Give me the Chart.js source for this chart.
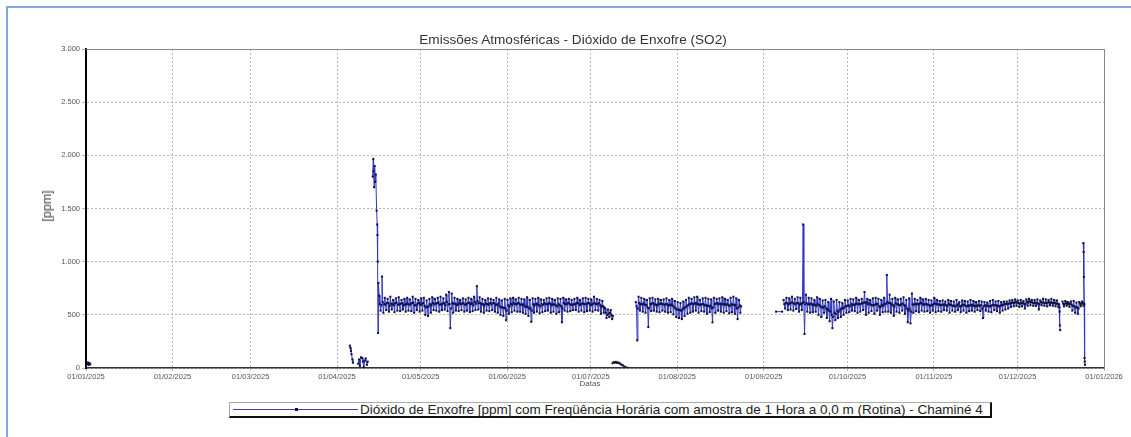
<!DOCTYPE html>
<html>
<head>
<meta charset="utf-8">
<script src="https://cdn.jsdelivr.net/npm/chart.js@4.4.1/dist/chart.umd.min.js"></script>
<style>
  html,body{margin:0;padding:0;background:#fff;}
  body{width:1131px;height:437px;position:relative;overflow:hidden;font-family:"Liberation Sans",Arial,sans-serif;}
  #frame{position:absolute;left:6px;top:6px;width:1140px;height:470px;border:2px solid #7fa8e2;box-sizing:border-box;}
  #wrap{position:absolute;left:0;top:0;width:1131px;height:437px;}
  #title{position:absolute;left:0;width:1146px;top:32px;text-align:center;font-size:13.6px;color:#333;line-height:15px;}
  #ylab{position:absolute;left:47px;top:206px;transform:translate(-50%,-50%) rotate(-90deg);font-size:12.5px;color:#444;white-space:nowrap;font-weight:normal;}
  #xlab{position:absolute;left:0;width:1180px;top:379px;text-align:center;font-size:8px;color:#555;}
  #legend{position:absolute;left:229px;top:402px;width:763px;height:16px;background:#fff;border-top:1px solid #aaa;border-left:1px solid #aaa;border-right:2px solid #111;border-bottom:2px solid #111;box-sizing:border-box;}
  #legline{position:absolute;left:3px;top:6px;width:125px;height:0;border-top:1px solid #3a3fb0;}
  #legdot{position:absolute;left:65px;top:5px;width:3px;height:3px;background:#111133;}
  #legtext{position:absolute;left:130px;top:0px;font-size:13.5px;line-height:14px;color:#222;white-space:nowrap;}
</style>
</head>
<body>
<div id="frame"></div>
<div id="wrap"><canvas id="c" width="1131" height="437"></canvas></div>
<div id="title">Emissões Atmosféricas - Dióxido de Enxofre (SO2)</div>
<div id="ylab">[ppm]</div>
<div id="xlab">Datas</div>
<div id="legend"><div id="legline"></div><div id="legdot"></div><div id="legtext">Dióxido de Enxofre [ppm] com Freqüência Horária com amostra de 1 Hora a 0,0 m (Rotina) - Chaminé 4</div></div>
<script>
// ---- tick labels ----
const monthTicks = [0,31,59,90,120,151,181,212,243,273,304,334,365];
const xTickLabels = ['01/01/2025','01/02/2025','01/03/2025','01/04/2025','01/05/2025','01/06/2025','01/07/2025','01/08/2025','01/09/2025','01/10/2025','01/11/2025','01/12/2025','01/01/2026'];
const yTickLabels = ['0','500','1.000','1.500','2.000','2.500','3.000'];

// ---- data (x = day of year 2025, y = ppm) ----
const janPts = [[0.1,30],[0.3,45],[0.5,35],[0.7,52],[0.9,40],[1.1,30],[1.3,45],[1.5,35]];
const aprPtsA = [[94.6,210],[94.8,190],[95.0,160],[95.2,130],[95.5,80],[95.7,50]];
const aprPtsB = [[97.6,40],[97.9,80],[98.2,20],[98.6,100],[99.0,95],[99.3,60],[99.6,10],[100.0,70],[100.3,90],[100.7,30],[101.0,60]];
const aprSpike = [[102.8,1800],[103.0,1966],[103.1,1850],[103.3,1700],[103.5,1900],[103.7,1750],[103.9,1820],[104.2,1480],[104.4,1350],[104.5,1250],[104.6,1000],[104.7,330],[104.85,800]];

// daily readings: highest, two typical, lowest
const bandAStart = 105;
const bandAHi = [680,860,660,650,670,640,655,665,640,650, 660,645,670,650,640,655,660,635,650,665,
                 650,660,670,655,690,715,700,660,650,640, 655,645,660,650,670,770,665,650,640,655,
                 650,640,660,645,635,650,640,655,660,645, 660,650,645,665,640,655,650,660,645,640,
                 655,660,650,640,655,650,660,645,650,640, 650,660,640,655,660,650,645,670,650,640,
                 630,560,550,545];
const bandAM1 = [600,620,595,610,605,590,615,600,610,595, 605,600,615,590,610,600,585,575,600,610,
                 605,615,600,610,620,600,610,605,595,600, 610,600,615,605,620,630,610,600,605,595,
                 600,610,595,580,570,560,590,600,610,600, 605,595,580,575,560,600,605,590,600,610,
                 600,605,595,590,600,580,610,600,605,595, 600,610,595,605,600,610,595,615,600,590,
                 580,520,510,500];
const bandALo = [540,520,545,530,550,525,540,535,550,530, 540,535,520,545,530,540,500,490,520,545,
                 540,530,545,550,535,375,520,540,535,545, 530,540,525,535,545,550,530,520,540,535,
                 545,530,520,500,490,450,510,525,540,530, 530,520,510,490,435,520,530,515,525,535,
                 540,520,530,510,525,430,540,530,535,545, 545,530,540,525,535,540,530,545,540,510,
                 520,470,480,460];
const bandAM2 = [590,600,610,585,600,610,595,605,590,600, 595,610,590,605,595,610,570,580,590,600,
                 610,595,605,590,600,560,605,595,610,605, 595,610,600,590,605,610,600,590,600,610,
                 610,595,605,570,565,540,580,595,600,610, 595,600,575,560,540,590,600,580,595,600,
                 610,595,600,580,590,560,600,610,595,600, 610,595,605,600,610,595,605,600,610,580,
                 570,500,520,490];

const julZero = [[188.8,45],[189.2,55],[189.6,50],[190.0,58],[190.4,48],[190.8,52],[191.2,45],[191.6,40],[192.0,30],[192.5,25],[193.0,15],[193.6,5],[194.2,2]];

const bandBStart = 197;
const bandBHi = [620,670,660,650,640,655,660,645,650,640, 645,655,640,650,630,620,610,625,640,660,
                 650,665,670,640,655,660,650,645,660,650, 655,665,650,640,660,670,655,640];
const bandBM1 = [580,610,600,595,570,600,610,595,600,605, 595,600,590,585,560,550,540,560,580,600,
                 605,610,600,595,600,590,585,560,600,610, 605,600,595,590,600,595,560,590];
const bandBLo = [260,540,530,520,385,535,540,530,525,540, 530,520,525,505,480,470,460,490,510,520,
                 530,540,520,535,530,510,525,430,520,540, 530,520,535,515,525,510,460,520];
const bandBM2 = [560,600,605,590,560,605,600,590,605,600, 600,590,595,570,550,545,550,570,590,605,
                 600,605,595,600,590,585,580,570,605,600, 600,595,600,585,595,590,570,580];

const sepFlat = [[247.4,530],[249.6,530]];

const bandCStart = 250;
const bandCHi = [640,660,655,670,650,665,660,1350,690,660, 655,640,665,650,635,640,620,650,625,640,
                 620,610,640,635,650,645,660,640,650,715, 650,640,655,660,650,640,660,875,690,650,
                 660,645,650,665,640,655,700,650,640,660, 645,650,640,635,660,640,630,635,625,640,
                 630,625,640,620,635,630,625,640,630,620, 630,625,620,615,630,640,625,630,620,625,
                 625,635,640,645,635,640,630,645,650,640, 640,645,635,650,645,640,650,640,635];
const bandCM1 = [600,610,605,615,600,610,605,620,610,600, 595,590,600,580,570,560,540,500,520,540,
                 550,560,580,590,600,595,605,600,610,615, 600,595,590,605,580,590,600,620,610,590,
                 605,595,600,590,560,550,600,605,600,610, 595,600,590,595,605,600,590,595,590,600,
                 590,585,595,580,590,585,590,595,585,580, 585,560,590,585,580,595,590,580,590,600,
                 600,610,615,620,610,615,605,620,625,615, 615,605,620,615,610,620,615,610,605];
const bandCLo = [560,545,550,540,555,530,545,320,530,520, 525,530,500,480,520,470,440,375,450,470,
                 480,500,520,525,540,535,520,530,545,500, 520,535,510,540,500,525,530,530,520,490,
                 530,520,540,510,430,420,520,535,525,540, 530,535,520,540,525,535,530,545,540,520,
                 540,530,545,525,540,520,535,540,530,545, 535,470,540,530,525,545,535,520,540,550,
                 560,575,580,585,575,580,560,585,590,585, 585,550,590,585,580,590,585,580,575];
const bandCM2 = [610,600,615,605,610,595,610,600,600,605, 600,585,590,570,580,550,530,480,510,530,
                 560,570,585,580,595,600,600,605,615,620, 605,590,595,600,575,585,605,610,600,580,
                 600,590,605,585,540,530,595,600,605,600, 600,595,585,600,600,595,595,600,585,595,
                 585,580,600,585,595,580,585,590,580,590, 590,580,585,580,590,590,585,585,595,605,
                 605,615,610,615,605,610,600,615,620,610, 610,600,615,610,615,610,610,605,600];
const decDip = [[349.0,570],[349.1,530],[349.2,400],[349.3,357]];

const bandDStart = 350;
const bandDHi = [625,630,620,625,630,615,620,625];
const bandDM1 = [605,610,600,595,580,570,605,610];
const bandDLo = [580,585,575,540,520,510,580,585];
const bandDM2 = [600,605,605,585,570,560,600,605];
const endSpike = [[357.6,1175],[357.7,1090],[357.8,855],[357.9,600],[358.0,95],[358.1,60],[358.2,30]];

// ---- build the line table ----
const pts = [];
const addPts = arr => arr.forEach(p => pts.push({x:p[0], y:p[1]}));
const addBand = (start, hi, m1, lo, m2) => hi.forEach((h,i) => {
  pts.push({x:start+i+0.125,y:h});
  pts.push({x:start+i+0.375,y:m1[i]});
  pts.push({x:start+i+0.625,y:lo[i]});
  pts.push({x:start+i+0.875,y:m2[i]});
});
const gap = () => { const last = pts[pts.length-1]; pts.push({x:last.x+0.05, y:null}); };

addPts(janPts); gap();
addPts(aprPtsA); gap();
addPts(aprPtsB); gap();
addPts(aprSpike); addBand(bandAStart, bandAHi, bandAM1, bandALo, bandAM2); gap();
addPts(julZero); gap();
addBand(bandBStart, bandBHi, bandBM1, bandBLo, bandBM2); gap();
addPts(sepFlat); gap();
addBand(bandCStart, bandCHi, bandCM1, bandCLo, bandCM2); addPts(decDip); gap();
addBand(bandDStart, bandDHi, bandDM1, bandDLo, bandDM2); addPts(endSpike);

const frameBorder = {
  id:'frameBorder',
  afterDraw(chart){
    const {ctx, chartArea:a} = chart;
    ctx.save();
    ctx.strokeStyle = '#888'; ctx.lineWidth = 1;
    ctx.beginPath();
    ctx.moveTo(a.left, a.top+0.5); ctx.lineTo(a.right+0.5, a.top+0.5); ctx.lineTo(a.right+0.5, a.bottom);
    ctx.stroke();
    ctx.restore();
  }
};

new Chart(document.getElementById('c'), {
  type:'line',
  data:{ datasets:[{
    data: pts,
    borderColor:'#2f37c4',
    borderWidth:1,
    pointStyle:'rect',
    pointRadius:1.45,
    pointBorderWidth:0,
    pointBackgroundColor:'#12123a',
    spanGaps:false,
    tension:0
  }]},
  options:{
    responsive:false,
    animation:false,
    events:[],
    layout:{padding:{left:0, top:49, right:27, bottom:0}},
    plugins:{legend:{display:false}, title:{display:false}, tooltip:{enabled:false}},
    scales:{
      x:{
        type:'linear', min:0, max:365,
        afterBuildTicks: s => { s.ticks = monthTicks.map(v => ({value:v})); },
        afterFit: s => { s.height = 69; },
        ticks:{ autoSkip:false, maxRotation:0, padding:1, color:'#555', font:{size:7.5, family:'Liberation Sans'},
          callback: v => xTickLabels[monthTicks.indexOf(v)] },
        grid:{ color:'#b8b8b8', lineWidth:1, tickLength:3, drawTicks:true },
        border:{ display:true, color:'#333', width:1.5, dash:[2,2] }
      },
      y:{
        min:0, max:3000,
        afterBuildTicks: s => { s.ticks = yTickLabels.map((t,i) => ({value:i*500})); },
        afterFit: s => { s.width = 86; },
        ticks:{ padding:2, color:'#555', font:{size:7.5, family:'Liberation Sans'},
          callback: v => yTickLabels[Math.round(v/500)] },
        grid:{ color:'#b8b8b8', lineWidth:1, tickLength:4, drawTicks:true },
        border:{ display:true, color:'#000', width:2, dash:[2,2] }
      }
    }
  },
  plugins:[frameBorder]
});
</script>
</body>
</html>
